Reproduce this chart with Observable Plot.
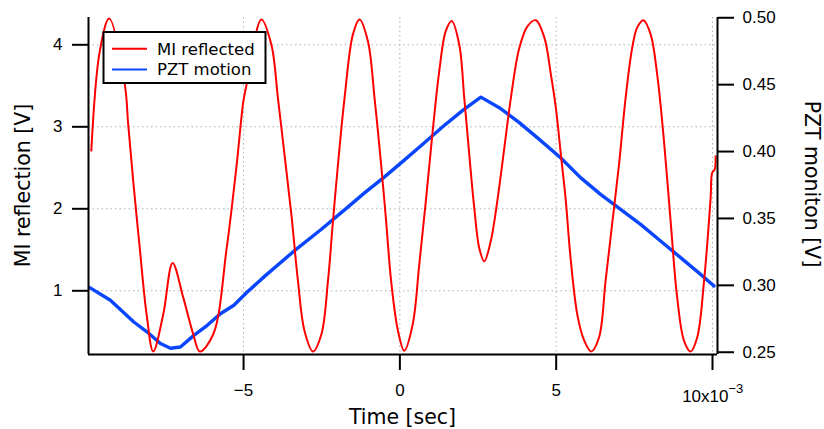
<!DOCTYPE html>
<html><head><meta charset="utf-8">
<script src="https://cdn.jsdelivr.net/npm/d3@7"></script>
<script src="https://cdn.jsdelivr.net/npm/@observablehq/plot@0.6"></script>
<style>body{margin:0;background:#fff} svg{display:block}</style>
</head><body><div id="chart"></div>
<script>
// ---- data (time in units of 10^-3 s) ----
const miTime = [-9.87,-9.60,-9.30,-8.80,-8.69,-8.53,-8.32,-8.10,-7.89,-7.57,-7.27,-6.93,-6.61,-6.40,-5.97,-5.54,-5.22,-5.01,-4.90,-4.43,-4.11,-3.90,-3.69,-3.47,-3.26,-3.05,-2.78,-2.51,-2.30,-2.14,-1.98,-1.77,-1.50,-1.29,-1.02,-0.81,-0.60,-0.44,-0.28,-0.06,0.14,0.41,0.62,0.83,1.05,1.26,1.47,1.66,1.90,2.06,2.22,2.38,2.54,2.70,2.91,3.13,3.34,3.55,3.82,4.09,4.35,4.62,4.83,4.99,5.15,5.30,5.46,5.68,5.89,6.12,6.37,6.58,6.80,7.01,7.22,7.43,7.59,7.79,8.02,8.23,8.45,8.66,8.87,9.09,9.30,9.51,9.73,9.94,9.99,10.07,10.10];
const miValue = [2.71,3.92,4.32,3.52,3.03,2.34,1.52,0.71,0.26,0.71,1.34,0.92,0.47,0.26,0.47,1.52,2.54,3.30,3.52,4.31,4.00,3.35,2.66,1.93,1.12,0.51,0.26,0.47,1.12,1.85,2.54,3.35,4.13,4.31,4.04,3.35,2.54,1.85,1.12,0.51,0.27,0.59,1.32,2.09,2.95,3.68,4.17,4.29,4.00,3.35,2.66,2.01,1.52,1.36,1.61,2.13,2.74,3.35,3.96,4.23,4.30,4.09,3.64,3.23,2.66,2.13,1.40,0.70,0.40,0.26,0.43,1.12,1.85,2.54,3.35,3.96,4.21,4.30,4.13,3.64,2.82,1.85,0.92,0.39,0.26,0.43,1.12,2.13,2.44,2.48,2.64];
const pztTime = [-9.92,-9.26,-8.51,-8.08,-7.66,-7.34,-7.02,-6.59,-6.16,-5.74,-5.31,-4.89,-4.33,-3.34,-2.51,-1.77,-1.13,-0.49,0.15,0.73,1.37,2.01,2.59,3.18,3.82,4.46,5.14,5.78,6.42,7.06,7.70,8.34,8.98,9.62,10.05];
const pztValue = [0.2983,0.2888,0.2726,0.2651,0.2565,0.2530,0.2539,0.2626,0.2701,0.2788,0.2851,0.2948,0.3067,0.3265,0.3419,0.3564,0.3691,0.3811,0.3938,0.4054,0.4185,0.4308,0.4407,0.4328,0.4216,0.4091,0.3954,0.3805,0.3680,0.3568,0.3456,0.3331,0.3207,0.3082,0.2995];

const xTicks = [-5, 0, 5, 10];
const xTickLabels = ["\u22125", "0", "5", "10x10"];
const xExponent = "\u22123";
const leftTicks = [1, 2, 3, 4];
const rightTicks = [0.25, 0.30, 0.35, 0.40, 0.45, 0.50];
const xDomain = [-9.96, 10.16];
const leftDomain = [0.2232, 4.333];
const rightDomain = [0.2483, 0.5002];
const seriesNames = ["MI reflected", "PZT motion"];
const seriesColors = ["#ff0000", "#0a46ff"];
const xTitle = "Time [sec]";
const leftTitle = "MI reflection [V]";
const rightTitle = "PZT moniton [V]";

const toLeft = p => leftDomain[0] + (p - rightDomain[0]) / (rightDomain[1] - rightDomain[0]) * (leftDomain[1] - leftDomain[0]);

const mi = miTime.map((t, i) => ({t, v: miValue[i]}));
const pzt = pztTime.map((t, i) => ({t, v: toLeft(pztValue[i])}));
const xLab = xTicks.slice(0, 3).map((t, i) => ({t, s: xTickLabels[i]}));

const gridStyle = {stroke: "#b0b0b0", strokeOpacity: 1, strokeWidth: 1, strokeDasharray: "1.5,3"};
const tickFont = "Liberation Sans";
const txtFont = "DejaVu Sans";
const blank = () => "";

const plot = Plot.plot({
  width: 824, height: 429,
  marginLeft: 88, marginRight: 107, marginTop: 17, marginBottom: 75,
  x: {domain: xDomain, axis: null},
  y: {domain: leftDomain, axis: null},
  style: {fontFamily: tickFont, fontSize: "17px", background: "#fff", color: "#000", overflow: "visible"},
  marks: [
    Plot.gridX(xTicks, gridStyle),
    Plot.gridY(leftTicks, gridStyle),
    Plot.line(pzt, {x: "t", y: "v", stroke: seriesColors[1], strokeWidth: 3.4}),
    Plot.line(mi, {x: "t", y: "v", stroke: seriesColors[0], strokeWidth: 2, curve: "catmull-rom"}),
    Plot.ruleX([xDomain[0], xDomain[1]], {stroke: "#000", strokeWidth: 2}),
    Plot.ruleY([leftDomain[0]], {stroke: "#000", strokeWidth: 2}),
    Plot.axisX(xTicks, {anchor: "bottom", tickSize: 16, strokeWidth: 2, label: null, tickFormat: blank}),
    Plot.axisY(leftTicks, {anchor: "left", tickSize: 16, strokeWidth: 2, label: null, tickFormat: blank}),
    Plot.axisY(rightTicks.map(toLeft), {anchor: "right", tickSize: 16, strokeWidth: 2, label: null, tickFormat: blank}),
    // tick labels
    Plot.text(xLab, {x: "t", y: () => leftDomain[0], text: "s", lineAnchor: "top", dy: 29, fontSize: 17, fontFamily: tickFont, fill: "#000"}),
    Plot.text([xTicks[3]], {x: d => d, y: () => leftDomain[0], text: () => xTickLabels[3], textAnchor: "end", lineAnchor: "top", dx: 16, dy: 35, fontSize: 17, fontFamily: tickFont, fill: "#000"}),
    Plot.text([xTicks[3]], {x: d => d, y: () => leftDomain[0], text: () => xExponent, textAnchor: "start", lineAnchor: "top", dx: 16, dy: 29, fontSize: 13, fontFamily: tickFont, fill: "#000"}),
    Plot.text(leftTicks, {x: () => xDomain[0], y: d => d, text: d => String(d), textAnchor: "end", dx: -26, fontSize: 17, fontFamily: tickFont, fill: "#000"}),
    Plot.text(rightTicks, {x: () => xDomain[1], y: d => toLeft(d), text: d => d.toFixed(2), textAnchor: "start", dx: 25, fontSize: 17, fontFamily: tickFont, fill: "#000"})
  ]
});
document.getElementById("chart").appendChild(plot);

const svg = d3.select(plot);
// axis titles
svg.append("text").attr("transform", "translate(402.5,424)").attr("text-anchor", "middle")
  .style("font-family", txtFont).style("font-size", "20.5px").attr("fill", "#000").text(xTitle);
svg.append("text").attr("transform", "translate(30,185.5) rotate(-90)").attr("text-anchor", "middle")
  .style("font-family", txtFont).style("font-size", "20.5px").attr("fill", "#000").text(leftTitle);
svg.append("text").attr("transform", "translate(805,184) rotate(90)").attr("text-anchor", "middle")
  .style("font-family", txtFont).style("font-size", "20.5px").attr("fill", "#000").text(rightTitle);

// legend
const lg = svg.append("g").attr("text-anchor", "start");
lg.append("rect").attr("x", 103.5).attr("y", 32).attr("width", 162).attr("height", 51)
  .attr("fill", "#fff").attr("stroke", "#000").attr("stroke-width", 2);
seriesNames.forEach((name, i) => {
  const y = 48.7 + i * 20.7;
  lg.append("line").attr("x1", 112).attr("x2", 147).attr("y1", y).attr("y2", y)
    .attr("stroke", seriesColors[i]).attr("stroke-width", 2);
  lg.append("text").attr("x", 157).attr("y", y + 5.8).attr("text-anchor", "start")
    .style("font-family", txtFont).style("font-size", "16.5px").attr("fill", "#000").text(name);
});
</script>
</body></html>
